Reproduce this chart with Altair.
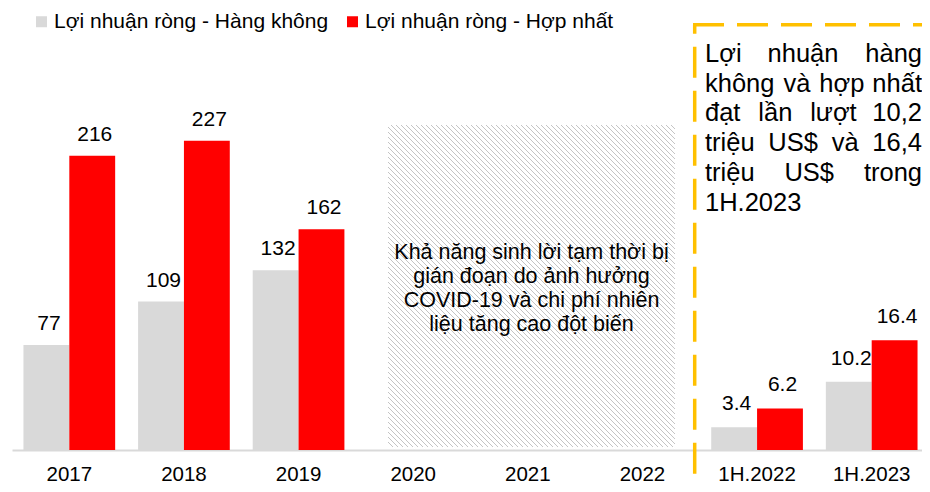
import unicodedata
import altair as alt
import pandas as pd

# ---------------- data ----------------
categories = ["2017", "2018", "2019", "2020", "2021", "2022", "1H.2022", "1H.2023"]
series_names = ["Lợi nhuận ròng - Hàng không", "Lợi nhuận ròng - Hợp nhất"]
series_colors = ["#D9D9D9", "#FF0000"]

annual_periods = ["2017", "2018", "2019"]
annual_hang_khong = [77, 109, 132]
annual_hop_nhat = [216, 227, 162]

half_periods = ["1H.2022", "1H.2023"]
half_hang_khong = [3.4, 10.2]
half_hop_nhat = [6.2, 16.4]

hatch_note_lines = [
    "Khả năng sinh lời tạm thời bị",
    "gián đoạn do ảnh hưởng",
    "COVID-19 và chi phí nhiên",
    "liệu tăng cao đột biến",
]
box_note_lines = [
    "Lợi nhuận hàng",
    "không và hợp nhất",
    "đạt lần lượt 10,2",
    "triệu US$ và 16,4",
    "triệu US$ trong",
    "1H.2023",
]

FONT = "Liberation Sans"


def long_df(periods, a, b):
    rows = []
    for p, va, vb in zip(periods, a, b):
        rows.append({"period": p, "series": series_names[0], "value": va})
        rows.append({"period": p, "series": series_names[1], "value": vb})
    return pd.DataFrame(rows)


annual_df = long_df(annual_periods, annual_hang_khong, annual_hop_nhat)
half_df = long_df(half_periods, half_hang_khong, half_hop_nhat)

# ---------------- shared encodings ----------------
x_enc = alt.X(
    "period:N",
    sort=categories,
    scale=alt.Scale(domain=categories, range=[4, 921], paddingInner=0.2, paddingOuter=0.1),
    axis=alt.Axis(
        title=None, labelAngle=0, ticks=False, tickSize=0, labelPadding=34,
        labelBaseline="bottom", labelFontSize=20.5, labelFont=FONT,
        labelColor="#000000", domainColor="#D9D9D9", domainWidth=2, grid=False,
    ),
)
xoff_enc = alt.XOffset(
    "series:N", sort=series_names,
    scale=alt.Scale(domain=series_names, paddingInner=0, paddingOuter=0),
)
color_enc = alt.Color(
    "series:N",
    sort=series_names,
    scale=alt.Scale(domain=series_names, range=series_colors),
    legend=alt.Legend(
        title=None, orient="none", legendX=23, legendY=3, direction="horizontal",
        symbolType="square", symbolSize=121, symbolStrokeWidth=0,
        labelFontSize=21, labelFont=FONT, labelColor="#000000", labelOffset=2,
        columnPadding=13, labelLimit=600, padding=0,
    ),
)


def bar_layers(df, ymax, dy, fmt):
    y_enc = alt.Y("value:Q", scale=alt.Scale(domain=[0, ymax], nice=False, zero=True), axis=None)
    base = alt.Chart(df)
    bars = base.mark_bar().encode(x=x_enc, xOffset=xoff_enc, y=y_enc, color=color_enc)
    labels = base.mark_text(
        font=FONT, fontSize=21, baseline="alphabetic", dy=dy, dx=2.5, color="#000000"
    ).encode(x=x_enc, xOffset=xoff_enc, y=y_enc, text=alt.Text("value:Q", format=fmt))
    return [bars, labels]


annual_layers = bar_layers(annual_df, 324.5, -15, "d")
half_layers = bar_layers(half_df, 66, -17, ".1f")

# ---------------- hatched "no data" zone ----------------
HX0, HX1, HY0, HY1 = 380, 667, 117, 439
HSTEP = 5
n_hatch = int((HX1 - HX0 + HY1 - HY0) / HSTEP) + 2
hatch = (
    alt.Chart(alt.sequence(0, n_hatch, as_="k"))
    .transform_calculate(d=f"{HX0 - HY1} + datum.k * {HSTEP}")
    .transform_calculate(
        ya=f"max({HY0}, {HX0} - datum.d)",
        yb=f"min({HY1}, {HX1} - datum.d)",
    )
    .transform_calculate(xa="datum.ya + datum.d", xb="datum.yb + datum.d")
    .transform_filter("datum.yb > datum.ya")
    .mark_rule(color="#C4C4C4", strokeWidth=1)
    .encode(
        x=alt.X("xa:Q", scale=None), x2="xb:Q",
        y=alt.Y("ya:Q", scale=None), y2="yb:Q",
    )
)

hatch_text_df = pd.DataFrame({
    "line": hatch_note_lines,
    "y": [250.7 + 24 * i for i in range(len(hatch_note_lines))],
})
hatch_text = alt.Chart(hatch_text_df).mark_text(
    font=FONT, fontSize=21.5, align="center", baseline="alphabetic", color="#000000"
).encode(x=alt.value(523.5), y=alt.Y("y:Q", scale=None), text="line:N")

# ---------------- dashed annotation box ----------------
dummy = pd.DataFrame({"a": [0]})
BOX_COLOR = "#FFC000"
box_left = alt.Chart(dummy).mark_rule(
    color=BOX_COLOR, strokeWidth=3.5, strokeDash=[31, 13], strokeDashOffset=22
).encode(x=alt.value(686.7), y=alt.value(16.7), y2=alt.value(480))
box_top = alt.Chart(dummy).mark_rule(
    color=BOX_COLOR, strokeWidth=3.5, strokeDash=[31, 13]
).encode(x=alt.value(685), x2=alt.value(930), y=alt.value(16.7))

# justified text inside the box (Arial-like advance widths)
W = {
    "a": .556, "b": .556, "c": .5, "d": .556, "e": .556, "g": .556, "h": .556,
    "i": .222, "k": .5, "l": .222, "m": .833, "n": .556, "o": .556, "p": .556,
    "r": .333, "s": .5, "t": .278, "u": .556, "v": .5, "y": .5, "L": .556,
    "U": .722, "S": .667, "H": .722, "$": .556, ",": .278, ".": .278,
    "đ": .556,
}


def text_width(word, size):
    total = 0.0
    for ch in word:
        if ch.isdigit():
            total += .556
            continue
        decomposed = unicodedata.normalize("NFD", ch)
        base = decomposed[0]
        w = W.get(ch, W.get(base, .556))
        if base in "ou" and "\u031b" in decomposed:
            w = .62
        total += w
    return total * size


BOX_FS = 25.5
BOX_LEFT, BOX_RIGHT = 697, 914
left_rows, right_rows = [], []
for i, line in enumerate(box_note_lines):
    yb = 53.7 + 29.8 * i
    words = line.split(" ")
    if i == len(box_note_lines) - 1 or len(words) == 1:
        left_rows.append({"w": line, "x": BOX_LEFT, "y": yb})
        continue
    widths = [text_width(w, BOX_FS) for w in words]
    gap = (BOX_RIGHT - BOX_LEFT - sum(widths)) / (len(words) - 1)
    xpos = BOX_LEFT
    for j, (w, ww) in enumerate(zip(words, widths)):
        if j == len(words) - 1:
            right_rows.append({"w": w, "x": BOX_RIGHT, "y": yb})
        else:
            left_rows.append({"w": w, "x": xpos, "y": yb})
        xpos += ww + gap

box_text_left = alt.Chart(pd.DataFrame(left_rows)).mark_text(
    font=FONT, fontSize=BOX_FS, align="left", baseline="alphabetic", color="#000000"
).encode(x=alt.X("x:Q", scale=None), y=alt.Y("y:Q", scale=None), text="w:N")
box_text_right = alt.Chart(pd.DataFrame(right_rows)).mark_text(
    font=FONT, fontSize=BOX_FS, align="right", baseline="alphabetic", color="#000000"
).encode(x=alt.X("x:Q", scale=None), y=alt.Y("y:Q", scale=None), text="w:N")

chart = (
    alt.layer(
        hatch, hatch_text,
        *annual_layers, *half_layers,
        box_left, box_top, box_text_left, box_text_right,
    )
    .resolve_scale(y="independent")
    .properties(
        width=914, height=442,
        autosize=alt.AutoSizeParams(type="none"),
        padding={"left": 0, "right": 0, "top": 0, "bottom": 34},
        background="white",
    )
    .configure_view(stroke=None)
)

chart.save("out.html", embed_options={"renderer": "svg", "actions": False})
